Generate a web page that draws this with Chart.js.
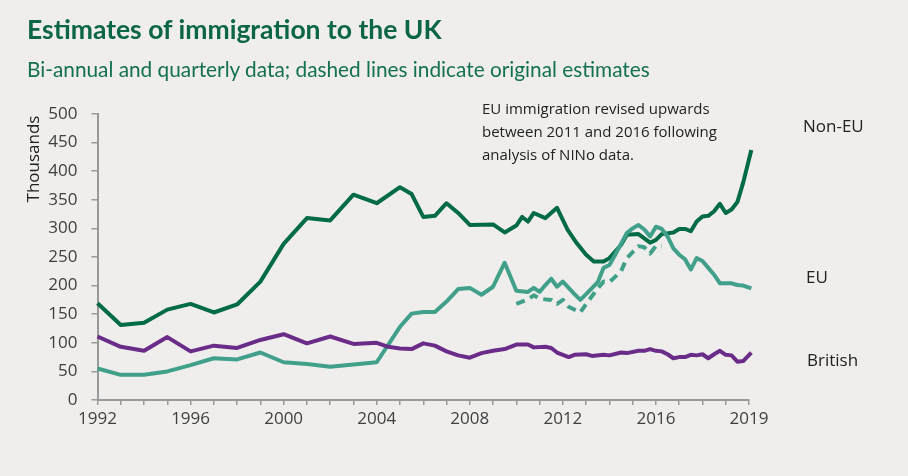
<!DOCTYPE html>
<html lang="en">
<head>
  <meta charset="UTF-8" />
  <title>Estimates of immigration to the UK</title>
  <script src="https://cdn.jsdelivr.net/npm/chart.js"></script>
  <style>
    body {
      margin: 0;
      background: #efeeec;
    }
    .wrap {
      position: relative;
      width: 908px;
      height: 476px;
      background: #efeeec;
      overflow: hidden;
    }
    .title {
      position: absolute;
      left: 27px;
      top: 13px;
      font: bold 26.5px 'Lato', sans-serif;
      color: #0b6646;
      white-space: nowrap;
    }
    .subtitle {
      position: absolute;
      left: 27px;
      top: 56px;
      font: 20.8px 'Lato', sans-serif;
      color: #137050;
      white-space: nowrap;
    }
    canvas { position: absolute; left: 0; top: 0; }
  </style>
</head>
<body>
  <div class="wrap">
    <canvas id="chart" width="908" height="476"></canvas>
    <div class="title">Estimates of immigration to the UK</div>
    <div class="subtitle">Bi-annual and quarterly data; dashed lines indicate original estimates</div>
  </div>

<script>
  // x positions in years, values in thousands
  const nonEuYears = [1992, 1993, 1994, 1995, 1996, 1997, 1998, 1999, 2000, 2001, 2002, 2003, 2004, 2005, 2005.5, 2006, 2006.5, 2007, 2007.5, 2008, 2009, 2009.5, 2010, 2010.25, 2010.5, 2010.75, 2011.25, 2011.75, 2012.2, 2012.6, 2013, 2013.33, 2013.75, 2014, 2014.5, 2014.75, 2015.25, 2015.75, 2016, 2016.25, 2016.75, 2017, 2017.25, 2017.5, 2017.75, 2018, 2018.25, 2018.5, 2018.75, 2019, 2019.25, 2019.5, 2019.75, 2020.1];
  const nonEuValues = [169, 131, 135, 158, 168, 153, 167, 207, 273, 318, 314, 359, 344, 372, 360, 320, 322, 344, 327, 306, 307, 293, 305, 320, 312, 327, 318, 336, 298, 274, 254, 242, 242, 248, 271, 289, 290, 275, 280, 290, 293, 299, 299, 295, 312, 321, 322, 330, 343, 327, 333, 346, 380, 437];

  const euYears = [1992, 1993, 1994, 1995, 1996, 1997, 1998, 1999, 2000, 2001, 2002, 2003, 2004, 2005, 2005.5, 2006, 2006.5, 2007, 2007.5, 2008, 2008.5, 2009, 2009.5, 2010, 2010.5, 2010.75, 2011, 2011.25, 2011.5, 2011.75, 2012, 2012.5, 2012.75, 2013, 2013.5, 2013.75, 2014, 2014.25, 2014.5, 2014.75, 2015, 2015.25, 2015.5, 2015.75, 2016, 2016.25, 2016.5, 2016.75, 2017, 2017.25, 2017.5, 2017.75, 2018, 2018.25, 2018.5, 2018.75, 2019, 2019.25, 2019.5, 2019.75, 2020.1];
  const euValues = [55, 44, 44, 50, 61, 73, 71, 83, 66, 63, 58, 62, 66, 128, 151, 154, 154, 172, 194, 196, 184, 198, 240, 191, 189, 196, 189, 201, 212, 198, 207, 185, 175, 185, 206, 231, 236, 254, 273, 292, 300, 306, 298, 286, 303, 299, 286, 265, 254, 246, 228, 248, 243, 231, 219, 204, 204, 204, 201, 200, 195];

  const euOrigYears = [2010, 2010.5, 2010.75, 2011, 2011.5, 2011.75, 2012, 2012.25, 2012.75, 2013, 2013.5, 2013.75, 2014, 2014.5, 2014.75, 2015.25, 2015.5, 2015.75, 2016, 2016.25];
  const euOrigValues = [168, 176, 183, 177, 175, 168, 175, 163, 153, 168, 195, 207, 206, 225, 248, 269, 267, 256, 269, 269];

  const britishYears = [1992, 1993, 1994, 1995, 1996, 1997, 1998, 1999, 2000, 2001, 2002, 2003, 2004, 2004.5, 2005, 2005.5, 2006, 2006.5, 2007, 2007.5, 2008, 2008.5, 2009, 2009.5, 2010, 2010.5, 2010.75, 2011.25, 2011.5, 2011.75, 2012.25, 2012.5, 2013, 2013.25, 2013.75, 2014, 2014.5, 2014.75, 2015.25, 2015.5, 2015.75, 2016, 2016.25, 2016.5, 2016.75, 2017, 2017.25, 2017.5, 2017.75, 2018, 2018.25, 2018.5, 2018.75, 2019, 2019.25, 2019.5, 2019.75, 2020.1];
  const britishValues = [111, 93, 86, 110, 85, 95, 91, 105, 115, 99, 111, 98, 100, 93, 90, 89, 99, 95, 85, 78, 74, 82, 86, 89, 97, 97, 92, 93, 91, 83, 75, 79, 80, 77, 79, 78, 83, 82, 86, 86, 89, 86, 85, 80, 73, 75, 75, 79, 78, 80, 73, 80, 86, 79, 78, 67, 68, 83];

  const xTickYears = [1992, 1996, 2000, 2004, 2008, 2012, 2016, 2020];
  const xTickLabels = ['1992', '1996', '2000', '2004', '2008', '2012', '2016', '2019'];

  const seriesLabels = ['Non-EU', 'EU', 'British'];
  const noteLines = ['EU immigration revised upwards', 'between 2011 and 2016 following', 'analysis of NINo data.'];

  const GREEN = '#006b45';
  const TEAL = '#40a08a';
  const PURPLE = '#6a2c88';
  const AXIS = '#999999';
  const TEXT = '#404040';

  function pts(xs, ys) {
    return xs.map((x, i) => ({ x: x, y: ys[i] }));
  }

  function lineSet(label, data, color, dash) {
    return {
      label: label,
      data: data,
      borderColor: color,
      borderWidth: 4,
      borderDash: dash || [],
      pointRadius: 0,
      tension: 0,
      fill: false,
      clip: false,
      borderJoinStyle: 'round'
    };
  }

  // text bits that are not axis labels
  const extras = {
    id: 'extras',
    afterDraw(chart) {
      const ctx = chart.ctx;
      ctx.save();
      ctx.fillStyle = '#222';
      ctx.textBaseline = 'middle';

      // y axis title, sits near the top rather than centred
      ctx.save();
      ctx.translate(34, 159);
      ctx.rotate(-Math.PI / 2);
      ctx.textAlign = 'center';
      ctx.font = '17px "Open Sans"';
      ctx.fillText('Thousands', 0, 0);
      ctx.restore();

      ctx.textAlign = 'left';
      ctx.font = '15px "Open Sans"';
      noteLines.forEach((t, i) => ctx.fillText(t, 482, 110 + i * 23));

      ctx.font = '17px "Open Sans"';
      ctx.fillText(seriesLabels[0], 803, 127);
      ctx.fillText(seriesLabels[1], 806, 278);
      ctx.fillText(seriesLabels[2], 807, 361);
      ctx.restore();
    }
  };

  new Chart(document.getElementById('chart'), {
    type: 'line',
    data: {
      datasets: [
        lineSet('EU (original)', pts(euOrigYears, euOrigValues), TEAL, [9, 6]),
        lineSet('British', pts(britishYears, britishValues), PURPLE),
        lineSet('EU', pts(euYears, euValues), TEAL),
        lineSet('Non-EU', pts(nonEuYears, nonEuValues), GREEN)
      ]
    },
    options: {
      responsive: false,
      animation: false,
      layout: { padding: { left: 0, top: 114, right: 159, bottom: 36 } },
      plugins: {
        legend: { display: false },
        tooltip: { enabled: false }
      },
      scales: {
        x: {
          type: 'linear',
          min: 1992,
          max: 2020,
          afterFit: s => { s.height = 40; },
          afterBuildTicks: s => {
            const t = [];
            for (let yr = 1992; yr <= 2020; yr++) t.push({ value: yr });
            s.ticks = t;
          },
          border: { display: true, color: AXIS, width: 2 },
          grid: { drawOnChartArea: false, color: AXIS, tickLength: 5, lineWidth: 1.5 },
          ticks: {
            autoSkip: false,
            maxRotation: 0,
            padding: 4,
            color: TEXT,
            font: { family: 'Open Sans', size: 17 },
            callback: v => {
              const i = xTickYears.indexOf(v);
              return i >= 0 ? xTickLabels[i] : '';
            }
          }
        },
        y: {
          min: 0,
          max: 500,
          afterFit: s => { s.width = 97.5; },
          border: { display: true, color: AXIS, width: 2 },
          grid: { drawOnChartArea: false, color: AXIS, tickLength: 6, lineWidth: 1.5 },
          ticks: {
            stepSize: 50,
            padding: 14,
            color: TEXT,
            font: { family: 'Open Sans', size: 17 }
          }
        }
      }
    },
    plugins: [extras]
  });
</script>
</body>
</html>
